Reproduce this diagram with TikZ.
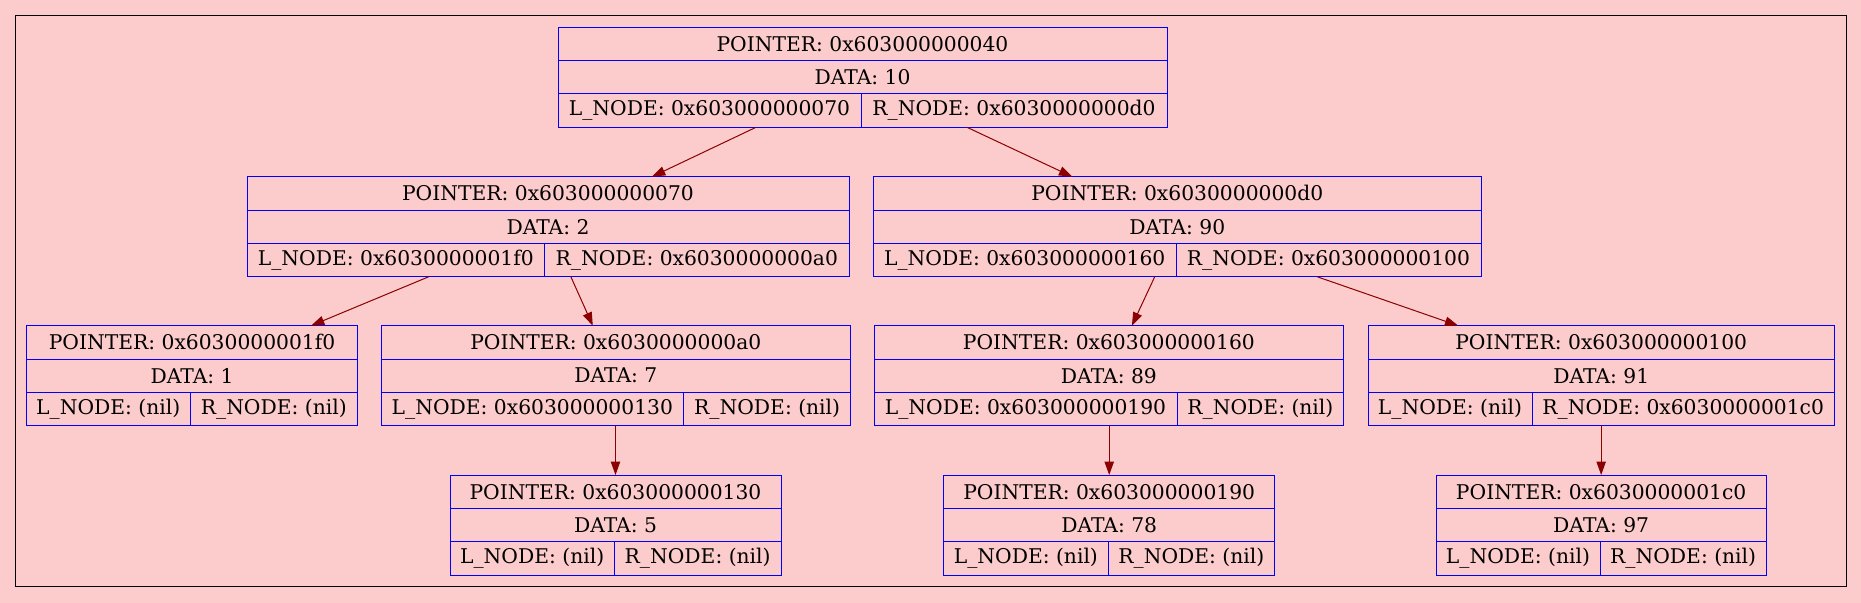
\documentclass[tikz,border=0pt]{standalone}
\usepackage{fontspec}
\setmainfont{DejaVu Serif}
\usepackage{tikz}
\usetikzlibrary{arrows.meta,calc}

\definecolor{bgpink}{RGB}{252,203,203}
\definecolor{ptrred}{RGB}{139,0,0}

\tikzset{
  recfield/.style={draw=blue, line width=0.75pt, rectangle, inner sep=0pt, outer sep=0pt,
    minimum height=25pt, font=\fontsize{15.2}{18}\selectfont, text=black},
  ptrarrow/.style={draw=ptrred, line width=0.75pt, -{Triangle[length=10pt,width=7pt]}},
}

% name, left, split, right, top, pointer, data, left field, right field
\newcommand{\recordnode}[9]{%
  \node[recfield, minimum width={(#4-#2)*0.75pt}, anchor=north west] (#1-p) at (#2,#5) {POINTER: #6};
  \node[recfield, minimum width={(#4-#2)*0.75pt}, anchor=north west] (#1-d) at (#1-p.south west) {DATA: #7};
  \node[recfield, minimum width={(#3-#2)*0.75pt}, anchor=north west] (#1-l) at (#1-d.south west) {L\_NODE: #8};
  \node[recfield, minimum width={(#4-#3)*0.75pt}, anchor=north west] (#1-r) at (#1-l.north east) {R\_NODE: #9};
}

\begin{document}
\begin{tikzpicture}[x=0.75pt, y=-0.75pt]

        \useasboundingbox (0,0) rectangle (1861,603);
        \fill[bgpink] (0,0) rectangle (1861,603);

        \draw[black, line width=0.75pt] (15.5,15.7) rectangle (1846,586.7);

        % level 0
        \recordnode{root}{558}{861}{1167}{27.3}{0x603000000040}{10}{0x603000000070}{0x6030000000d0}

        % level 1
        \recordnode{n070}{247}{544.7}{849}{176.7}{0x603000000070}{2}{0x6030000001f0}{0x6030000000a0}
        \recordnode{nd0}{873.5}{1176}{1481}{176.7}{0x6030000000d0}{90}{0x603000000160}{0x603000000100}

        % level 2
        \recordnode{n1f0}{26.5}{190}{357.6}{325.7}{0x6030000001f0}{1}{(nil)}{(nil)}
        \recordnode{na0}{381}{683.7}{850.6}{325.7}{0x6030000000a0}{7}{0x603000000130}{(nil)}
        \recordnode{n160}{874}{1177}{1343.8}{325.7}{0x603000000160}{89}{0x603000000190}{(nil)}
        \recordnode{n100}{1368}{1532}{1834.5}{325.7}{0x603000000100}{91}{(nil)}{0x6030000001c0}

        % level 3
        \recordnode{n130}{450}{614.3}{781}{475}{0x603000000130}{5}{(nil)}{(nil)}
        \recordnode{n190}{943.7}{1108}{1274.7}{475}{0x603000000190}{78}{(nil)}{(nil)}
        \recordnode{n1c0}{1436}{1600}{1766.3}{475}{0x6030000001c0}{97}{(nil)}{(nil)}

        % pointers
        \draw[ptrarrow] ($(root-l.south)+(46.5,0)$) -- ($(n070-p.north)+(104,0)$);
        \draw[ptrarrow] ($(root-r.south)+(-47,0)$) -- ($(nd0-p.north)+(-105,0)$);
        \draw[ptrarrow] ($(n070-l.south)+(33,0)$) -- ($(n1f0-p.north)+(119,0)$);
        \draw[ptrarrow] ($(n070-r.south)+(-126,0)$) -- ($(na0-p.north)+(-23,0)$);
        \draw[ptrarrow] ($(nd0-l.south)+(130,0)$) -- ($(n160-p.north)+(23,0)$);
        \draw[ptrarrow] ($(nd0-r.south)+(-11.5,0)$) -- ($(n100-p.north)+(-143,0)$);
        \draw[ptrarrow] (na0-l.south -| n130-p.north) -- (n130-p.north);
        \draw[ptrarrow] (n160-l.south -| n190-p.north) -- (n190-p.north);
        \draw[ptrarrow] (n100-r.south -| n1c0-p.north) -- (n1c0-p.north);

\end{tikzpicture}
\end{document}
